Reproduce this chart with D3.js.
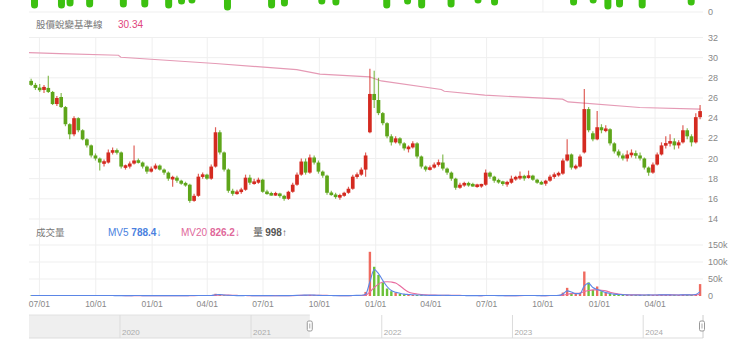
<!DOCTYPE html>
<html>
<head>
<meta charset="utf-8">
<script src="https://cdn.jsdelivr.net/npm/d3@7"></script>
<style>
  body { margin: 0; background: #fff; }
  svg text { font-family: "Liberation Sans", "Noto Sans CJK TC", sans-serif; }
  .cjk { font-family: "Noto Sans CJK TC", "Noto Sans", sans-serif !important; }
</style>
</head>
<body>
<svg id="chart"></svg>
<script>
const width = 740;
const height = 352;

// weekly candles, first week starts 2021-06-14
const firstWeek = new Date(2021, 5, 14);
const open = [27.7,27.3,27.0,26.8,27.0,26.6,25.4,26.1,25.1,23.4,22.4,24.0,22.8,21.9,21.3,20.3,20.0,19.6,19.6,20.6,
  20.8,20.6,19.2,19.2,19.5,19.8,19.6,19.2,18.7,19.0,19.3,18.9,18.6,18.0,18.1,17.8,17.5,17.4,15.8,16.3,
  18.2,18.4,18.0,19.2,22.6,20.6,18.9,16.8,16.5,16.7,16.9,18.1,17.6,17.6,17.9,16.7,16.5,16.4,16.5,16.3,
  16.0,16.7,17.4,18.4,19.7,18.6,20.1,19.6,18.7,18.3,16.6,16.4,16.2,16.3,16.6,17.0,18.2,18.4,18.9,22.6,
  26.4,25.8,24.5,23.5,22.2,21.6,22.0,21.5,21.0,21.1,21.5,20.2,19.2,18.9,19.1,19.4,19.6,19.0,18.6,18.0,
  17.1,17.4,17.5,17.4,17.3,17.3,17.4,18.6,18.2,17.8,17.7,17.5,17.6,18.0,18.1,18.2,18.1,18.3,17.9,17.6,
  17.5,17.8,18.2,18.4,18.5,19.8,20.4,19.1,19.2,20.6,24.9,22.5,21.9,23.1,22.8,22.9,21.5,20.7,20.3,20.0,
  20.4,20.5,20.3,20.0,19.1,18.6,19.4,20.4,21.3,21.5,21.7,21.3,21.6,22.8,22.2,21.6,24.1];
const high = [27.9,27.5,27.4,27.3,28.2,26.7,26.2,26.5,25.2,23.5,24.2,24.1,22.9,22.0,21.4,20.5,20.1,19.9,20.9,21.1,
  21.0,20.7,19.4,19.7,21.3,20.0,19.7,19.3,19.2,19.5,19.4,19.0,18.7,18.3,18.3,17.9,17.7,17.5,16.5,18.5,
  18.6,18.5,19.4,23.1,22.8,20.7,19.0,17.0,16.9,17.1,18.4,18.4,18.0,18.1,18.0,16.9,16.7,16.7,16.6,16.4,
  16.8,17.6,18.6,20.0,20.0,20.4,20.3,19.8,18.8,18.4,16.8,16.6,16.5,16.7,17.2,18.4,18.6,19.1,20.6,28.9,
  28.7,28.0,24.6,23.6,22.4,22.2,22.1,21.6,21.3,21.7,21.6,20.3,19.3,19.3,19.6,19.9,20.4,19.1,18.7,18.1,
  17.6,17.7,17.7,17.6,17.5,17.5,18.9,18.7,18.3,18.0,17.8,17.8,18.3,18.3,18.7,18.4,18.8,18.4,18.0,17.8,
  17.9,18.4,18.6,18.7,20.0,21.9,20.5,19.4,20.4,26.9,25.1,22.7,24.7,23.4,23.3,23.0,21.6,20.9,20.5,20.8,
  20.9,20.8,20.6,20.1,19.2,19.6,20.6,21.6,22.2,22.4,22.0,21.8,23.3,23.0,22.4,24.5,25.3];
const low = [27.2,26.8,26.6,26.5,26.5,25.3,25.2,25.0,23.2,21.9,22.2,22.6,21.8,21.1,20.1,19.8,18.8,19.2,19.5,20.4,
  20.4,19.0,18.9,19.0,19.4,19.5,19.0,18.5,18.6,18.9,18.8,18.4,17.8,17.2,17.6,17.4,17.2,15.6,15.7,16.2,
  18.0,17.9,17.9,19.1,20.4,18.7,16.6,16.3,16.4,16.5,16.8,17.4,17.4,17.5,16.6,16.4,16.3,16.3,16.1,15.8,
  15.9,16.6,17.3,18.3,18.4,18.5,19.4,18.5,18.1,16.4,16.3,16.0,15.9,16.2,16.5,16.9,18.0,18.3,18.2,22.5,
  25.0,24.3,23.3,22.0,21.3,21.5,21.3,20.8,20.6,21.0,20.0,19.0,18.7,18.8,19.0,19.2,18.8,18.4,17.8,16.9,
  17.0,17.2,17.2,17.2,17.1,17.1,17.3,18.0,17.6,17.5,17.3,17.2,17.5,17.8,17.9,17.8,18.0,17.8,17.5,17.4,
  17.3,17.7,18.0,18.2,18.4,19.7,18.9,18.9,19.1,20.5,22.6,21.7,21.8,22.5,22.6,21.3,20.5,20.1,19.8,19.7,
  20.1,20.0,19.8,18.9,18.3,18.5,19.3,20.3,21.0,21.2,20.9,21.0,21.5,21.9,21.2,21.5,23.9];
const close = [27.3,27.0,26.8,27.1,26.6,25.4,26.0,25.1,23.4,22.4,24.0,22.8,21.9,21.3,20.3,20.0,19.6,19.6,20.6,20.8,
  20.6,19.2,19.2,19.5,19.8,19.6,19.2,18.7,19.0,19.3,18.9,18.6,18.0,18.1,17.8,17.5,17.4,15.8,16.3,18.2,
  18.4,18.0,19.2,22.6,20.6,18.9,16.8,16.5,16.7,16.9,18.1,17.6,17.6,17.9,16.7,16.5,16.4,16.5,16.3,16.0,
  16.7,17.4,18.4,19.7,18.6,20.1,19.6,18.7,18.3,16.6,16.4,16.2,16.3,16.6,17.0,18.2,18.4,18.9,20.3,26.4,
  25.8,24.5,23.5,22.2,21.6,22.0,21.5,21.0,21.1,21.5,20.2,19.2,18.9,19.1,19.4,19.6,19.0,18.6,18.0,17.1,
  17.4,17.5,17.4,17.3,17.3,17.4,18.6,18.2,17.8,17.7,17.5,17.6,18.0,18.1,18.2,18.1,18.3,17.9,17.6,17.5,
  17.8,18.2,18.4,18.5,19.8,20.4,19.1,19.2,20.2,24.9,22.8,21.9,23.1,22.8,22.9,21.5,20.7,20.3,20.0,20.4,
  20.5,20.3,20.0,19.1,18.6,19.4,20.4,21.3,21.5,21.7,21.3,21.6,22.8,22.2,21.6,24.1,24.7];

// volume (thousand lots) and its moving averages, one value per week
const volume = [1.4,1.2,1.3,1.1,1.6,1.5,1.2,1.3,1.8,1.6,1.7,1.4,1.3,1.2,1.4,1.1,1.5,1.2,1.3,1.2,
  1.1,1.3,1.0,1.1,1.9,1.2,1.0,1.1,1.0,1.1,1.0,1.1,1.2,1.4,1.1,1.0,1.1,1.8,1.3,2.0,
  1.2,1.1,1.6,6.5,4.2,2.3,1.8,1.2,1.0,1.1,1.6,1.2,1.0,1.1,1.4,1.0,0.9,0.9,1.0,1.1,
  1.3,1.6,2.2,3.0,2.4,3.2,2.0,1.6,1.3,1.5,1.1,1.0,1.0,1.1,1.3,2.0,1.6,2.2,12,130,
  86,62,40,22,14,10,7,5,4,3,2.8,2.5,2.0,1.8,1.7,1.9,2.2,1.6,1.5,1.7,
  1.3,1.2,1.2,1.1,1.0,1.1,2.0,1.5,1.2,1.1,1.1,1.0,1.3,1.2,1.5,1.2,1.6,1.2,1.1,1.0,
  1.2,1.6,1.8,1.7,10,24,8,6,9,72,40,18,28,14,9,7,5,4,3.5,3.0,
  3.2,2.8,2.5,3.0,3.5,2.8,3.2,3.6,3.0,3.4,2.8,3.0,3.8,3.2,3.0,6.0,35];
const mv5 = [1.3,1.3,1.3,1.3,1.4,1.4,1.4,1.4,1.5,1.5,1.5,1.5,1.4,1.3,1.3,1.3,1.3,1.3,1.3,1.3,
  1.2,1.2,1.2,1.1,1.3,1.3,1.2,1.1,1.1,1.1,1.1,1.1,1.1,1.2,1.2,1.1,1.1,1.3,1.4,1.6,
  1.5,1.3,1.4,3.6,4.4,3.0,2.0,1.5,1.2,1.1,1.3,1.3,1.1,1.1,1.2,1.1,1.0,0.9,1.0,1.0,
  1.2,1.4,1.8,2.4,2.6,2.8,2.5,1.9,1.5,1.4,1.3,1.1,1.0,1.0,1.2,1.6,1.8,2.0,5,42,
  78,66,46,28,16,11,8,5.5,4.5,3.5,3.0,2.7,2.2,1.9,1.8,1.8,2.0,1.8,1.6,1.6,
  1.4,1.3,1.2,1.1,1.1,1.1,1.5,1.6,1.3,1.2,1.1,1.1,1.2,1.2,1.3,1.3,1.4,1.3,1.2,1.1,
  1.2,1.4,1.6,1.7,6,15,12,7,7,30,37,25,19,15,10,7.5,5.5,4.5,3.8,3.2,
  3.1,3.0,2.7,2.8,3.2,3.0,3.1,3.4,3.2,3.3,3.0,3.0,3.4,3.4,3.1,4.5,13];
const mv20 = [1.4,1.4,1.4,1.4,1.4,1.4,1.4,1.4,1.4,1.4,1.4,1.4,1.4,1.4,1.4,1.3,1.3,1.3,1.3,1.3,
  1.3,1.3,1.2,1.2,1.2,1.2,1.2,1.2,1.1,1.1,1.1,1.1,1.1,1.1,1.1,1.1,1.1,1.2,1.2,1.3,
  1.3,1.3,1.3,2.0,2.6,2.8,2.6,2.2,1.8,1.4,1.3,1.2,1.2,1.1,1.1,1.1,1.0,1.0,1.0,1.0,
  1.1,1.2,1.4,1.7,2.0,2.3,2.4,2.3,2.0,1.7,1.5,1.3,1.2,1.1,1.1,1.3,1.4,1.6,2.5,12,
  25,35,41,42,41,38,30,20,12,8,6,4.5,3.5,3.0,2.6,2.3,2.1,2.0,1.9,1.8,
  1.7,1.6,1.5,1.4,1.3,1.2,1.3,1.4,1.4,1.3,1.3,1.2,1.2,1.2,1.2,1.3,1.3,1.3,1.3,1.2,
  1.2,1.3,1.4,1.5,2.5,5,7,8,9,13,16,18,18,17,15,11,8,6,4.5,3.8,
  3.5,3.3,3.2,3.0,3.1,3.1,3.1,3.2,3.2,3.2,3.2,3.1,3.2,3.2,3.2,3.4,5];

// 股價蛻變基準線
const baseDates = ["2021-06-14","2021-08-03","2021-11-07","2021-11-11","2022-04-14","2022-08-25","2022-10-02",
  "2022-12-22","2023-01-10","2023-04-18","2023-04-23","2023-06-28","2023-11-02","2023-11-11","2024-03-07","2024-06-14"];
const baseValues = [30.5,30.41,30.24,30.04,29.42,28.82,28.36,28.09,27.69,26.84,26.67,26.28,25.88,25.61,25.06,24.89];

// bottom of the indicator panel above (cut off)
const topWeeks = [1.3,7.7,9.6,14.2,22.0,27.1,32.6,35.7,38.0,46.4,56.7,59.6,68.4,71.7,83.5,88.3,91.7,98.5,104.8,108.7,127.0,131.6,135.0,137.8,143.0,154.5];
const topValues = [4,4,6,5,5,5,4,8,9,2,4,6,8,7,4,8,4,5,9,7,7,9,3,5,4,7];

const priceTicks = [14,16,18,20,22,24,26,28,30,32];
const volTicks = [0,50,100,150];
const dateTicks = ["2021-07-01","2021-10-01","2022-01-01","2022-04-01","2022-07-01","2022-10-01",
  "2023-01-01","2023-04-01","2023-07-01","2023-10-01","2024-01-01","2024-04-01"];
const navYears = ["2020-01-01","2021-01-01","2022-01-01","2023-01-01","2024-01-01"];

const parse = d3.timeParse("%Y-%m-%d");
const weeks = close.map((c, i) => d3.timeDay.offset(firstWeek, i * 7));

const svg = d3.select("#chart").attr("width", width).attr("height", height);

const x = d3.scaleTime().domain([firstWeek, new Date(2024, 5, 15)]).range([29, 701]);
const bw = x(d3.timeDay.offset(firstWeek, 7)) - x(firstWeek);
const cx = i => x(weeks[i]) + bw / 2;
const y = d3.scaleLinear().domain([14, 32]).range([219, 37.5]);
const yv = d3.scaleLinear().domain([0, 150]).range([296, 245]);
const yTop = d3.scaleLinear().domain([0, 12]).range([12, 0]);
const navX = d3.scaleTime().domain([new Date(2019, 3, 22), new Date(2024, 5, 16)]).range([29, 703]);

const up = "#d42a20", down = "#5ea51a";
const grid = "#efefef", labelColor = "#888";

// grids
svg.selectAll(".hg").data(priceTicks).enter().append("line")
  .attr("x1", 29).attr("x2", 703)
  .attr("y1", d => y(d)).attr("y2", d => y(d))
  .attr("stroke", grid);
svg.selectAll(".vhg").data(volTicks.slice(1)).enter().append("line")
  .attr("x1", 29).attr("x2", 703)
  .attr("y1", d => yv(d)).attr("y2", d => yv(d))
  .attr("stroke", grid);
svg.append("line").attr("x1", 29).attr("x2", 703).attr("y1", yTop(0)).attr("y2", yTop(0)).attr("stroke", grid);
svg.selectAll(".vg").data(dateTicks).enter().append("line")
  .attr("x1", d => x(parse(d))).attr("x2", d => x(parse(d)))
  .attr("y1", 37).attr("y2", 296)
  .attr("stroke", grid);
svg.append("line").attr("x1", x(parse("2023-10-01"))).attr("x2", x(parse("2023-10-01")))
  .attr("y1", 0).attr("y2", 12).attr("stroke", grid);

// top strip blobs
svg.selectAll(".blob").data(topWeeks).enter().append("line")
  .attr("x1", (d, i) => x(d3.timeDay.offset(firstWeek, d * 7)))
  .attr("x2", (d, i) => x(d3.timeDay.offset(firstWeek, d * 7)))
  .attr("y1", -6)
  .attr("y2", (d, i) => yTop(topValues[i]) - 3)
  .attr("stroke", "#3cc010")
  .attr("stroke-width", 7)
  .attr("stroke-linecap", "round");
svg.append("text").attr("x", 708).attr("y", 15).attr("font-size", 9).attr("fill", labelColor).text("0");

// titles
svg.append("text").attr("class", "cjk").attr("x", 36).attr("y", 28).attr("font-size", 9.5).attr("fill", "#777").text("股價蛻變基準線");
svg.append("text").attr("x", 118).attr("y", 28).attr("font-size", 10).attr("fill", "#e0457b").text("30.34");

// baseline line
svg.append("path")
  .datum(baseDates.map((d, i) => [parse(d), baseValues[i]]))
  .attr("fill", "none")
  .attr("stroke", "#e59ab5")
  .attr("stroke-width", 1.2)
  .attr("d", d3.line().x(d => x(d[0])).y(d => y(d[1])));

// candles
const candle = svg.selectAll(".candle").data(close).enter().append("g");
candle.append("line")
  .attr("x1", (d, i) => cx(i)).attr("x2", (d, i) => cx(i))
  .attr("y1", (d, i) => y(high[i])).attr("y2", (d, i) => y(low[i]))
  .attr("stroke", (d, i) => d >= open[i] ? up : down)
  .attr("stroke-opacity", 0.75)
  .attr("stroke-width", 1.2);
const minBody = 2.6;
candle.append("rect")
  .attr("x", (d, i) => cx(i) - bw / 2 + 0.3)
  .attr("width", bw - 0.6)
  .attr("y", (d, i) => {
    const top = y(Math.max(d, open[i])), h = Math.abs(y(d) - y(open[i]));
    return h < minBody ? top - (minBody - h) / 2 : top;
  })
  .attr("height", (d, i) => Math.max(minBody, Math.abs(y(d) - y(open[i]))))
  .attr("fill", (d, i) => d >= open[i] ? up : down);

// price axis labels
svg.selectAll(".py").data(priceTicks).enter().append("text")
  .attr("x", 708).attr("y", d => y(d) + 3)
  .attr("font-size", 9).attr("fill", labelColor)
  .text(d => d);

// volume legend
svg.append("text").attr("class", "cjk").attr("x", 36).attr("y", 236).attr("font-size", 9.5).attr("fill", "#777").text("成交量");
const mv5Text = svg.append("text").attr("x", 108).attr("y", 236).attr("font-size", 10).attr("fill", "#4a7fe0");
mv5Text.append("tspan").text("MV5 ");
mv5Text.append("tspan").attr("font-weight", "bold").text("788.4");
mv5Text.append("tspan").text("↓");
const mv20Text = svg.append("text").attr("x", 181).attr("y", 236).attr("font-size", 10).attr("fill", "#e0689a");
mv20Text.append("tspan").text("MV20 ");
mv20Text.append("tspan").attr("font-weight", "bold").text("826.2");
mv20Text.append("tspan").text("↓");
const qText = svg.append("text").attr("x", 253).attr("y", 236).attr("font-size", 10).attr("fill", "#555");
qText.append("tspan").attr("class", "cjk").text("量 ");
qText.append("tspan").attr("font-weight", "bold").text("998");
qText.append("tspan").text("↑");

// volume bars
svg.selectAll(".vol").data(volume).enter().append("rect")
  .attr("x", (d, i) => cx(i) - 1.2)
  .attr("width", 2.4)
  .attr("y", d => yv(d))
  .attr("height", d => yv(0) - yv(d))
  .attr("fill", (d, i) => close[i] >= open[i] ? "#ef6a5f" : "#6cc23a");

const mvLine = d3.line().x((d, i) => cx(i)).y(d => yv(d)).curve(d3.curveMonotoneX);
svg.append("path").datum(mv20).attr("fill", "none").attr("stroke", "#e86b9f").attr("stroke-width", 1.1).attr("d", mvLine);
svg.append("path").datum(mv5).attr("fill", "none").attr("stroke", "#5b86e6").attr("stroke-width", 1.1).attr("d", mvLine);

svg.selectAll(".vy").data(volTicks).enter().append("text")
  .attr("x", 708).attr("y", d => yv(d) + 3)
  .attr("font-size", 9).attr("fill", labelColor)
  .text(d => d === 0 ? "0" : d + "k");

// date axis
svg.selectAll(".xl").data(dateTicks).enter().append("text")
  .attr("x", d => x(parse(d))).attr("y", 307)
  .attr("text-anchor", "middle")
  .attr("font-size", 8.5).attr("fill", labelColor)
  .text(d => d3.timeFormat("%m/%d")(parse(d)));

// navigator
const navTop = 315, navBottom = 338;
svg.append("rect").attr("x", 29).attr("y", navTop)
  .attr("width", navX(firstWeek) - 29).attr("height", navBottom - navTop)
  .attr("fill", "#efefef");
svg.append("line").attr("x1", 29).attr("x2", 703).attr("y1", navBottom).attr("y2", navBottom).attr("stroke", "#ddd");
svg.append("line").attr("x1", 29).attr("x2", navX(firstWeek)).attr("y1", navTop).attr("y2", navTop).attr("stroke", "#e2e2e2");
svg.selectAll(".ny").data(navYears).enter().append("line")
  .attr("x1", d => navX(parse(d))).attr("x2", d => navX(parse(d)))
  .attr("y1", navTop).attr("y2", navBottom)
  .attr("stroke", "#dcdcdc");
svg.selectAll(".nyl").data(navYears).enter().append("text")
  .attr("x", d => navX(parse(d)) + 2).attr("y", 335)
  .attr("font-size", 8).attr("fill", "#aaa")
  .text(d => d.slice(0, 4));
svg.append("line").attr("x1", 703).attr("x2", 703).attr("y1", navTop).attr("y2", navBottom).attr("stroke", "#ccc");
[navX(firstWeek), 702].forEach(hx => {
  svg.append("rect").attr("x", hx - 2.5).attr("y", 321).attr("width", 5).attr("height", 10)
    .attr("rx", 1.5).attr("fill", "#fff").attr("stroke", "#999");
  svg.append("line").attr("x1", hx).attr("x2", hx).attr("y1", 323.5).attr("y2", 328.5).attr("stroke", "#aaa");
});
</script>
</body>
</html>
